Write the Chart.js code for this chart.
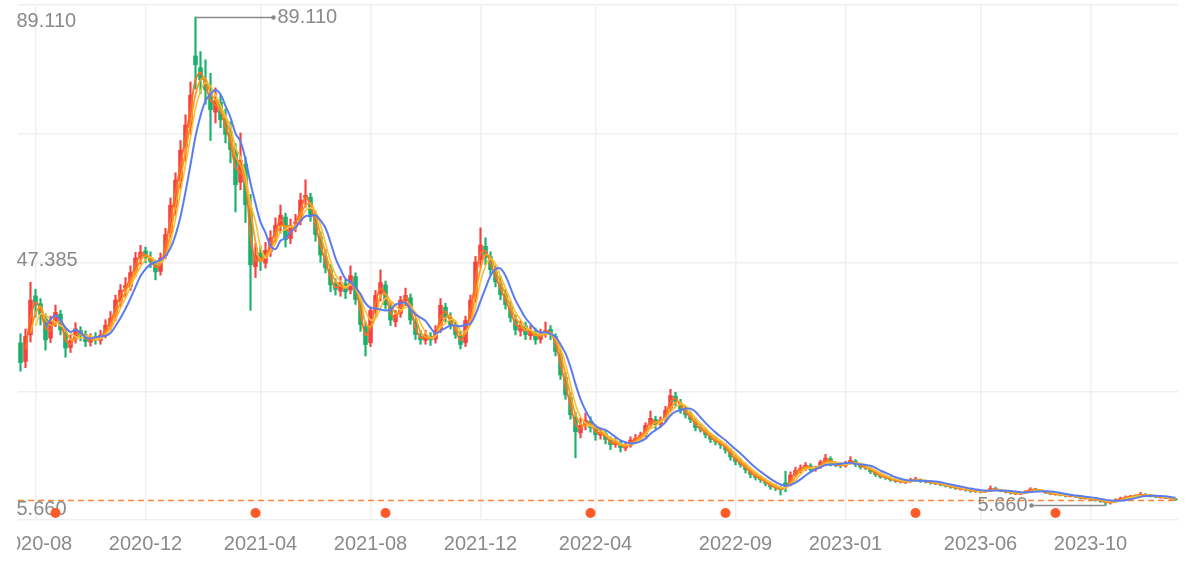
<!DOCTYPE html>
<html>
<head>
<meta charset="utf-8">
<script src="https://cdn.jsdelivr.net/npm/chart.js@4.4.1/dist/chart.umd.min.js"></script>
<style>
  html, body { margin: 0; padding: 0; background: #fff; }
  #wrap { position: absolute; left: 17px; top: 0; width: 1183px; height: 561px; overflow: hidden; }
  #chart { position: absolute; left: -17px; top: 0; }
</style>
</head>
<body>
<div id="wrap"><canvas id="chart" width="1200" height="561"></canvas></div>
<script>
// candles as [open, high, low, close]
const candles2020 = [
  [33.5, 35.0, 28.6, 30.0], [30.2, 35.8, 29.2, 34.6], [34.8, 43.8, 33.6, 40.8], [41.5, 42.6, 37.8, 39.9],
  [40.2, 41.0, 36.5, 38.2], [37.6, 38.4, 32.2, 33.9], [34.2, 38.0, 33.5, 37.3], [37.0, 39.9, 36.2, 38.7],
  [38.4, 39.0, 34.8, 35.6], [35.2, 35.8, 31.0, 32.5], [32.6, 34.8, 31.8, 33.9], [34.0, 36.9, 33.4, 35.9],
  [35.6, 36.2, 33.8, 34.8], [34.9, 35.5, 32.8, 33.6], [33.5, 35.0, 32.9, 34.3], [34.5, 35.2, 33.2, 33.9],
  [33.8, 35.6, 33.2, 34.8], [34.9, 37.4, 34.3, 36.5], [36.2, 38.8, 35.6, 37.7], [37.9, 41.6, 37.2, 40.8],
  [40.5, 43.4, 39.6, 42.5], [42.8, 44.6, 41.2, 43.3], [43.0, 46.6, 42.4, 45.5], [45.6, 48.9, 44.8, 48.0],
  [48.2, 50.1, 46.9, 49.0], [49.2, 49.8, 47.1, 48.0], [48.1, 49.0, 46.3, 47.3], [47.0, 47.6, 44.2, 45.5],
  [45.6, 48.8, 45.0, 48.0], [48.3, 53.0, 47.8, 52.0], [52.2, 58.2, 51.4, 57.0]
];
const candles2021 = [
  [56.6, 62.5, 55.2, 61.3], [61.0, 68.0, 59.8, 66.4], [66.8, 72.4, 64.5, 70.7], [70.2, 78.0, 69.0, 75.8],
  [82.5, 89.11, 76.8, 80.9], [80.5, 83.2, 76.0, 78.35], [78.0, 81.8, 74.2, 76.6], [76.0, 79.5, 68.0, 73.2],
  [72.8, 77.0, 71.0, 74.9], [74.6, 75.8, 70.2, 71.5], [71.8, 73.4, 67.6, 69.0], [69.5, 71.2, 64.2, 66.4],
  [66.0, 67.5, 55.8, 60.4], [60.8, 69.3, 59.6, 64.7], [64.0, 65.2, 54.0, 57.0], [56.5, 58.8, 39.0, 46.7],
  [46.4, 50.4, 44.6, 48.4], [48.8, 50.0, 45.8, 47.3], [47.0, 50.6, 46.2, 49.3], [49.0, 52.6, 48.2, 51.4],
  [51.6, 54.8, 50.6, 53.6], [53.4, 57.0, 52.2, 55.3], [55.0, 55.6, 49.8, 51.0], [51.2, 54.6, 50.4, 53.6],
  [53.8, 55.4, 52.4, 54.1], [54.3, 59.0, 53.6, 57.9], [58.2, 61.3, 56.6, 58.7], [58.4, 59.0, 54.2, 55.3],
  [55.0, 56.0, 50.8, 51.9], [51.6, 52.4, 47.2, 48.4], [48.0, 49.4, 45.4, 46.2], [46.0, 46.8, 42.2, 43.3],
  [43.6, 44.4, 41.6, 42.5], [42.2, 44.8, 41.4, 43.8], [43.6, 44.2, 41.0, 42.1], [42.4, 46.6, 41.8, 45.0],
  [44.8, 45.4, 40.0, 40.8], [40.6, 41.2, 35.4, 36.5], [36.2, 37.0, 31.2, 33.1], [33.4, 39.6, 32.8, 39.0],
  [39.2, 42.4, 38.4, 41.6], [41.8, 45.9, 40.6, 43.8], [43.4, 44.0, 39.2, 39.9], [39.6, 40.4, 36.4, 37.3],
  [37.0, 39.0, 36.2, 38.2], [38.4, 41.4, 37.8, 40.8], [40.6, 42.8, 39.8, 41.6], [41.2, 41.8, 36.6, 37.3],
  [37.0, 37.6, 34.0, 34.8], [34.6, 35.6, 33.2, 33.9], [33.8, 35.6, 33.2, 34.8], [34.6, 35.2, 33.0, 33.9],
  [34.0, 36.4, 33.4, 35.6], [35.8, 41.0, 35.2, 39.9], [39.6, 40.2, 37.0, 37.7], [37.4, 38.6, 35.8, 36.5],
  [36.2, 37.0, 34.2, 34.8], [34.6, 35.4, 32.4, 33.1], [33.4, 38.0, 32.8, 37.3], [37.6, 41.6, 37.0, 40.8],
  [41.0, 48.2, 40.4, 47.3], [47.6, 53.1, 46.4, 50.2], [50.0, 51.4, 46.8, 48.0], [48.2, 49.0, 45.0, 45.9],
  [45.6, 46.6, 43.0, 43.8], [43.6, 44.8, 40.8, 41.6], [41.8, 42.6, 39.2, 39.9]
];
const candles2022 = [
  [39.6, 40.6, 37.0, 37.7], [37.4, 38.2, 34.8, 35.6], [35.4, 37.2, 34.6, 36.5], [36.4, 37.0, 34.0, 34.8],
  [34.6, 36.4, 34.0, 35.6], [35.4, 36.0, 33.2, 33.9], [34.0, 35.8, 33.4, 35.1], [35.0, 37.0, 34.4, 35.6],
  [35.8, 36.4, 34.0, 34.8], [34.6, 35.0, 31.2, 31.9], [31.6, 32.2, 27.2, 27.9], [27.6, 28.4, 23.8, 24.5],
  [24.2, 25.0, 20.4, 21.1], [20.8, 21.6, 13.8, 18.2], [18.0, 20.6, 17.2, 19.4], [19.2, 21.5, 18.6, 20.3],
  [20.1, 20.8, 18.2, 18.9], [18.8, 19.4, 16.8, 17.7], [17.6, 18.9, 17.0, 18.2], [18.0, 18.4, 16.2, 16.9],
  [16.8, 17.4, 15.2, 16.0], [16.0, 17.2, 15.6, 16.5], [16.4, 16.8, 14.8, 15.5], [15.4, 16.4, 15.0, 15.8],
  [15.9, 17.4, 15.6, 16.9], [16.8, 17.8, 16.4, 17.2], [17.1, 18.2, 16.8, 17.7], [17.8, 19.8, 17.4, 19.4],
  [19.6, 21.8, 19.0, 20.6], [20.4, 20.9, 18.8, 19.4], [19.5, 20.8, 19.0, 20.3], [20.4, 22.6, 20.0, 22.0],
  [22.2, 25.5, 21.8, 24.5], [24.4, 25.0, 22.6, 23.3], [23.2, 23.8, 21.4, 22.0], [22.0, 22.6, 20.6, 21.1],
  [21.2, 21.8, 19.8, 20.3], [20.2, 20.6, 18.4, 18.9], [18.8, 19.6, 18.2, 18.6], [18.5, 18.9, 17.2, 17.7],
  [17.6, 18.0, 16.4, 16.9], [16.8, 17.4, 16.0, 16.5], [16.4, 16.8, 15.4, 16.0], [15.9, 16.2, 14.6, 15.1],
  [15.0, 15.4, 13.4, 13.9], [13.8, 14.2, 12.6, 13.1], [13.0, 13.6, 12.2, 12.6], [12.6, 12.9, 11.2, 11.7],
  [11.6, 11.9, 10.4, 10.9], [10.8, 11.2, 10.0, 10.4], [10.4, 10.7, 9.6, 10.0], [9.9, 10.2, 9.0, 9.4],
  [9.3, 9.6, 8.4, 8.8], [8.7, 9.2, 8.2, 8.6], [8.6, 8.9, 7.45, 8.3], [9.6, 11.5, 8.0, 9.1],
  [9.2, 11.4, 9.0, 10.9], [10.9, 12.2, 10.6, 11.7], [11.6, 12.6, 11.2, 12.1], [12.0, 13.0, 11.6, 12.6],
  [12.5, 12.8, 11.4, 11.7], [11.8, 12.4, 11.5, 12.1], [12.2, 13.4, 12.0, 13.1], [13.2, 14.4, 12.9, 13.8],
  [13.7, 14.0, 12.4, 12.7], [12.8, 13.1, 12.3, 12.6], [12.6, 12.9, 12.1, 12.4]
];
const candles2023 = [
  [12.4, 13.2, 12.2, 12.9], [12.9, 14.0, 12.7, 13.4], [13.3, 13.5, 12.3, 12.6], [12.6, 12.9, 11.9, 12.2],
  [12.2, 12.6, 11.8, 12.1], [12.0, 12.2, 11.1, 11.4], [11.4, 11.6, 10.6, 10.9], [10.9, 11.1, 10.3, 10.5],
  [10.5, 10.8, 10.1, 10.4], [10.4, 10.6, 9.8, 10.0], [10.0, 10.2, 9.6, 9.8], [9.8, 10.0, 9.5, 9.7],
  [9.6, 9.9, 9.4, 9.7], [9.7, 10.3, 9.6, 10.0], [10.1, 10.5, 9.9, 10.2], [10.1, 10.2, 9.6, 9.8],
  [9.8, 10.0, 9.5, 9.7], [9.7, 9.9, 9.3, 9.5], [9.5, 9.8, 9.2, 9.4], [9.4, 9.6, 9.0, 9.2],
  [9.2, 9.4, 8.8, 9.0], [9.0, 9.2, 8.6, 8.8], [8.8, 9.0, 8.4, 8.6], [8.4, 8.8, 8.3, 8.5],
  [8.5, 8.6, 8.1, 8.3], [8.3, 8.4, 7.9, 8.1], [8.0, 8.3, 7.9, 8.1], [8.1, 8.2, 7.8, 8.0],
  [8.0, 8.3, 7.9, 8.1], [8.1, 9.0, 8.0, 8.6], [8.6, 8.8, 8.2, 8.3], [8.3, 8.4, 8.0, 8.1],
  [8.1, 8.2, 7.8, 8.0], [8.0, 8.1, 7.6, 7.8], [7.8, 7.9, 7.5, 7.6], [7.6, 7.9, 7.5, 7.8],
  [7.8, 8.2, 7.7, 8.1], [8.1, 8.7, 8.0, 8.5], [8.5, 8.6, 8.2, 8.3], [8.3, 8.4, 8.0, 8.1],
  [8.1, 8.2, 7.7, 7.8], [7.8, 7.9, 7.5, 7.6], [7.5, 7.8, 7.4, 7.6], [7.6, 7.7, 7.3, 7.4],
  [7.4, 7.5, 7.1, 7.3], [7.2, 7.5, 7.1, 7.3], [7.3, 7.4, 7.0, 7.1], [7.1, 7.2, 6.8, 6.9],
  [6.8, 7.1, 6.7, 6.9], [6.9, 7.0, 6.6, 6.8], [6.8, 6.9, 6.4, 6.6], [6.6, 6.7, 6.2, 6.4],
  [6.4, 6.5, 5.66, 6.1], [6.1, 6.5, 5.9, 6.3], [6.3, 6.8, 6.2, 6.6], [6.6, 7.1, 6.5, 6.9],
  [6.9, 7.3, 6.8, 7.1], [7.1, 7.4, 7.0, 7.3], [7.4, 7.5, 7.1, 7.3], [7.3, 7.9, 7.2, 7.6],
  [7.6, 7.7, 7.3, 7.4], [7.4, 7.5, 7.1, 7.3], [7.3, 7.4, 7.0, 7.1], [7.0, 7.3, 6.9, 7.1],
  [7.1, 7.2, 6.8, 6.9], [6.9, 7.0, 6.7, 6.8], [6.8, 6.9, 6.5, 6.6]
];

// month ticks on the date axis, by candle position
const xTickLabels = ["2020-08", "2020-12", "2021-04", "2021-08", "2021-12", "2022-04", "2022-09", "2023-01", "2023-06", "2023-10"];
const xTickIndex = [3, 25, 48, 70, 92, 115, 143, 165, 192, 214];

// event markers under the price
const eventIndex = [7, 47, 73, 114, 141, 179, 207];
const EVENT_LEVEL = 4.38;

const maPeriods = [2, 3, 4, 6];
const maColors = ["#ff6d24", "#ff9c1a", "#f9c03a", "#5a7cf2"];
const maWidths = [1.8, 1.8, 1.6, 2];

const UP = "#f5423f";
const DOWN = "#19b26b";
const GRAY = "#8a8a8a";
const FONT = '"Liberation Sans", Arial, sans-serif';

const candles = [...candles2020, ...candles2021, ...candles2022, ...candles2023];
const labels = candles.map((_, i) => i);
const closes = candles.map((c) => c[3]);
const colors = candles.map((c) => (c[3] >= c[0] ? UP : DOWN));

const highs = candles.map((c) => c[1]);
const lows = candles.map((c) => c[2]);
const maxValue = Math.max(...highs);
const minValue = Math.min(...lows);
const maxIdx = highs.indexOf(maxValue);
const minIdx = lows.indexOf(minValue);
const lastClose = closes[closes.length - 1];

function sma(values, n) {
  return values.map((_, i) => {
    if (i < n - 1) return null;
    let sum = 0;
    for (let k = i - n + 1; k <= i; k++) sum += values[k];
    return sum / n;
  });
}

const overlay = {
  id: "overlay",
  beforeDatasetsDraw(chart) {
    const { ctx, chartArea, scales } = chart;
    const y = scales.y;
    ctx.save();
    // last price line
    const ly = Math.round(y.getPixelForValue(lastClose)) + 0.5;
    ctx.strokeStyle = "#ff8536";
    ctx.lineWidth = 1.5;
    ctx.setLineDash([6, 4]);
    ctx.beginPath();
    ctx.moveTo(chartArea.left, ly);
    ctx.lineTo(chartArea.right, ly);
    ctx.stroke();
    ctx.setLineDash([]);
    // max / mid / min labels
    ctx.font = "20px " + FONT;
    ctx.fillStyle = GRAY;
    ctx.textAlign = "left";
    ctx.textBaseline = "middle";
    const mid = (maxValue + minValue) / 2;
    ctx.fillText(maxValue.toFixed(3), 16.5, y.getPixelForValue(maxValue) + 4);
    ctx.fillText(mid.toFixed(3), 16.5, y.getPixelForValue(mid) - 1);
    ctx.fillText(minValue.toFixed(3), 16.5, y.getPixelForValue(minValue) + 4);
    ctx.restore();
  },
  afterDatasetsDraw(chart) {
    const { ctx, scales } = chart;
    const x = scales.x;
    const y = scales.y;
    ctx.save();
    ctx.strokeStyle = GRAY;
    ctx.fillStyle = GRAY;
    ctx.lineWidth = 1.5;
    ctx.font = "20px " + FONT;
    ctx.textBaseline = "middle";

    const hx = x.getPixelForValue(maxIdx);
    const hy = Math.round(y.getPixelForValue(maxValue)) + 0.5;
    ctx.beginPath();
    ctx.moveTo(hx, hy);
    ctx.lineTo(hx + 78, hy);
    ctx.stroke();
    ctx.beginPath();
    ctx.arc(hx + 78, hy, 2.2, 0, Math.PI * 2);
    ctx.fill();
    ctx.textAlign = "left";
    ctx.fillText(maxValue.toFixed(3), hx + 82, hy);

    const lx = x.getPixelForValue(minIdx);
    const lyy = Math.round(y.getPixelForValue(minValue)) + 0.5;
    ctx.beginPath();
    ctx.moveTo(lx, lyy);
    ctx.lineTo(lx - 74, lyy);
    ctx.stroke();
    ctx.beginPath();
    ctx.arc(lx - 74, lyy, 2.2, 0, Math.PI * 2);
    ctx.fill();
    ctx.textAlign = "right";
    ctx.fillText(minValue.toFixed(3), lx - 78, lyy);
    ctx.restore();
  }
};

const maDatasets = maPeriods.map((n, k) => ({
  type: "line",
  data: sma(closes, n),
  borderColor: maColors[k],
  borderWidth: maWidths[k],
  pointRadius: 0,
  tension: 0.35,
  order: 5 - k
}));

new Chart(document.getElementById("chart"), {
  type: "bar",
  data: {
    labels,
    datasets: [
      {
        data: candles.map((c) => [c[2], c[1]]),
        backgroundColor: colors,
        barThickness: 1.5,
        grouped: false,
        order: 10
      },
      {
        data: candles.map((c) => [c[0], c[3]]),
        backgroundColor: colors,
        categoryPercentage: 1,
        barPercentage: 0.92,
        grouped: false,
        order: 9
      },
      ...maDatasets,
      {
        type: "line",
        data: candles.map((_, i) => (eventIndex.includes(i) ? EVENT_LEVEL : null)),
        showLine: false,
        pointRadius: 5,
        pointBorderWidth: 0,
        pointBackgroundColor: "#ff5b26",
        order: 0
      }
    ]
  },
  options: {
    responsive: false,
    animation: false,
    events: [],
    layout: { padding: { left: 18, right: 22, top: 5, bottom: -7 } },
    plugins: { legend: { display: false }, tooltip: { enabled: false } },
    scales: {
      x: {
        offset: true,
        border: { display: false },
        grid: { offset: false, color: "#efefef", lineWidth: 1.5, drawTicks: false },
        ticks: {
          autoSkip: false,
          maxRotation: 0,
          padding: 12,
          color: GRAY,
          font: { size: 20, family: FONT },
          callback: (value) => {
            const j = xTickIndex.indexOf(value);
            return j >= 0 ? xTickLabels[j] : "";
          }
        },
        afterBuildTicks: (scale) => {
          scale.ticks = xTickIndex.map((v) => ({ value: v }));
        },
        afterFit: (scale) => {
          scale.paddingLeft = 0;
          scale.paddingRight = 0;
        }
      },
      y: {
        min: 3.18,
        max: 91.16,
        border: { display: false },
        grid: { color: "#efefef", lineWidth: 1.5, drawTicks: false },
        ticks: { display: false },
        afterBuildTicks: (scale) => {
          const step = (scale.max - scale.min) / 4;
          scale.ticks = [0, 1, 2, 3, 4].map((k) => ({ value: scale.min + k * step }));
        }
      }
    }
  },
  plugins: [overlay]
});
</script>
</body>
</html>
